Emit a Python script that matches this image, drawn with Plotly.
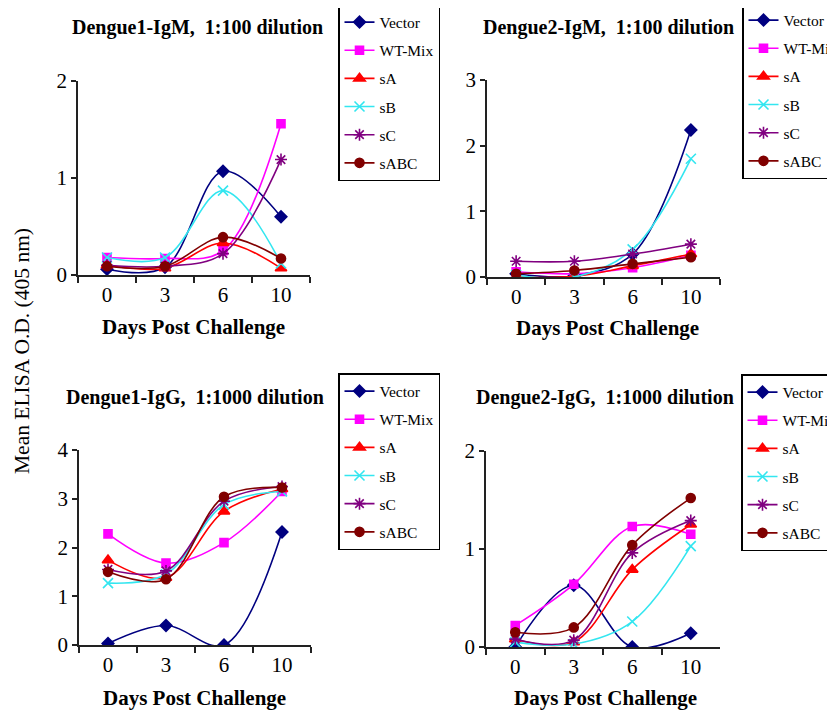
import plotly.graph_objects as go

days = ["0", "3", "6", "10"]
series_names = ["Vector", "WT-Mix", "sA", "sB", "sC", "sABC"]

# Dengue1-IgM, 1:100 dilution
d1_igm_vector = [0.06, 0.08, 1.07, 0.60]
d1_igm_wtmix = [0.18, 0.17, 0.25, 1.56]
d1_igm_sA = [0.10, 0.07, 0.33, 0.07]
d1_igm_sB = [0.18, 0.18, 0.87, 0.12]
d1_igm_sC = [0.10, 0.09, 0.22, 1.19]
d1_igm_sABC = [0.09, 0.09, 0.39, 0.17]

# Dengue2-IgM, 1:100 dilution
d2_igm_vector = [0.05, 0.02, 0.35, 2.24]
d2_igm_wtmix = [0.08, 0.05, 0.14, 0.33]
d2_igm_sA = [0.00, 0.01, 0.17, 0.35]
d2_igm_sB = [0.03, 0.00, 0.42, 1.80]
d2_igm_sC = [0.24, 0.24, 0.35, 0.50]
d2_igm_sABC = [0.05, 0.10, 0.20, 0.30]

# Dengue1-IgG, 1:1000 dilution
d1_igg_vector = [0.03, 0.40, 0.00, 2.32]
d1_igg_wtmix = [2.28, 1.68, 2.10, 3.15]
d1_igg_sA = [1.74, 1.38, 2.74, 3.20]
d1_igg_sB = [1.27, 1.45, 2.88, 3.15]
d1_igg_sC = [1.55, 1.52, 2.95, 3.25]
d1_igg_sABC = [1.50, 1.35, 3.04, 3.23]

# Dengue2-IgG, 1:1000 dilution
d2_igg_vector = [0.00, 0.63, 0.00, 0.14]
d2_igg_wtmix = [0.22, 0.64, 1.23, 1.15]
d2_igg_sA = [0.08, 0.05, 0.79, 1.25]
d2_igg_sB = [0.05, 0.03, 0.26, 1.03]
d2_igg_sC = [0.08, 0.07, 0.96, 1.29]
d2_igg_sABC = [0.15, 0.20, 1.04, 1.52]

NB = "\u00a0"
panel_titles = [f"Dengue1-IgM,{NB}{NB}1:100 dilution", f"Dengue2-IgM,{NB}{NB}1:100 dilution",
                f"Dengue1-IgG,{NB}{NB}1:1000 dilution", f"Dengue2-IgG,{NB}{NB}1:1000 dilution"]
x_title = "Days Post Challenge"
y_title = "Mean ELISA O.D. (405 nm)"
panel_data = [
    [d1_igm_vector, d1_igm_wtmix, d1_igm_sA, d1_igm_sB, d1_igm_sC, d1_igm_sABC],
    [d2_igm_vector, d2_igm_wtmix, d2_igm_sA, d2_igm_sB, d2_igm_sC, d2_igm_sABC],
    [d1_igg_vector, d1_igg_wtmix, d1_igg_sA, d1_igg_sB, d1_igg_sC, d1_igg_sABC],
    [d2_igg_vector, d2_igg_wtmix, d2_igg_sA, d2_igg_sB, d2_igg_sC, d2_igg_sABC],
]
y_max = [2, 3, 4, 2]

colors = ["#000080", "#FF00FF", "#FF0000", "#33E6F0", "#800080", "#800000"]
symbols = ["diamond", "square", "triangle-up", "x-thin-open", "asterisk-open", "circle"]
sizes = [9, 8, 10, 10, 10, 9]

W, H = 835, 712
OFF = 8  # page body margin

def fx(px):
    return (px - OFF) / W

def fy(py):
    return 1 - (py - OFF) / H

domains = [
    ([fx(78), fx(310)], [fy(275), fy(81)]),
    ([fx(487), fx(720)], [fy(277), fy(80)]),
    ([fx(79), fx(311)], [fy(645), fy(450)]),
    ([fx(486), fx(720)], [fy(647), fy(451)]),
]
legend_pos = [(338, 4), (742, 2), (338, 373), (741, 374)]
title_pos = [(197, 27), (608, 27), (195, 398), (605, 398)]
xtitle_pos = [(193, 327), (607, 328), (194, 698), (605, 698)]

SERIF = "Liberation Serif"

fig = go.Figure()
layout = dict(
    width=W, height=H,
    template="none",
    margin=dict(l=0, r=0, t=0, b=0, autoexpand=False),
    paper_bgcolor="white", plot_bgcolor="white",
    font=dict(family=SERIF, color="black"),
    annotations=[],
    showlegend=True,
)

for p in range(4):
    sfx = "" if p == 0 else str(p + 1)
    leg = "legend" if p == 0 else f"legend{p + 1}"
    for i, name in enumerate(series_names):
        fig.add_trace(go.Scatter(
            x=days, y=panel_data[p][i], name=name,
            mode="lines+markers",
            line=dict(color=colors[i], width=1.6, shape="spline", smoothing=1.0),
            marker=dict(symbol=symbols[i], size=sizes[i], color=colors[i],
                        line=dict(color=colors[i], width=1.6)),
            xaxis="x" + sfx, yaxis="y" + sfx,
            legend=leg, legendgroup=f"{p}-{name}",
            cliponaxis=True,
        ))
    dx, dy = domains[p]
    layout["xaxis" + sfx] = dict(
        domain=dx, anchor="y" + sfx, type="category",
        categoryorder="array", categoryarray=days,
        range=[-0.5, 3.5], tickson="boundaries", automargin=False,
        showline=True, linecolor="#222", linewidth=1.5,
        ticks="outside", ticklen=6, tickwidth=1.5, tickcolor="#222",
        showgrid=False, zeroline=False,
        tickfont=dict(family=SERIF, size=21, color="black"),
        fixedrange=True,
    )
    layout["yaxis" + sfx] = dict(
        domain=dy, anchor="x" + sfx, range=[0, y_max[p]], dtick=1,
        automargin=False,
        showline=True, linecolor="#222", linewidth=1.5,
        ticks="outside", ticklen=5, tickwidth=1.5, tickcolor="#222",
        showgrid=False, zeroline=False,
        tickfont=dict(family=SERIF, size=21, color="black"),
        fixedrange=True,
    )
    lx, ly = legend_pos[p]
    layout[leg] = dict(
        x=fx(lx), y=fy(ly), xanchor="left", yanchor="top",
        bordercolor="black", borderwidth=1.5, bgcolor="white",
        font=dict(family=SERIF, size=15.5, color="black"),
        tracegroupgap=5, itemwidth=30,
    )
    tx, ty = title_pos[p]
    layout["annotations"].append(dict(
        text=f"<b>{panel_titles[p]}</b>", x=fx(tx), y=fy(ty),
        xref="paper", yref="paper", xanchor="center", yanchor="middle",
        showarrow=False, font=dict(family=SERIF, size=20, color="black"),
    ))
    ax, ay = xtitle_pos[p]
    layout["annotations"].append(dict(
        text=f"<b>{x_title}</b>", x=fx(ax), y=fy(ay),
        xref="paper", yref="paper", xanchor="center", yanchor="middle",
        showarrow=False, font=dict(family=SERIF, size=21, color="black"),
    ))

layout["annotations"].append(dict(
    text=y_title, x=fx(22), y=fy(351),
    xref="paper", yref="paper", xanchor="center", yanchor="middle",
    textangle=-90, showarrow=False,
    font=dict(family=SERIF, size=21.5, color="black"),
))

fig.update_layout(**layout)
fig.write_html("out.html")
